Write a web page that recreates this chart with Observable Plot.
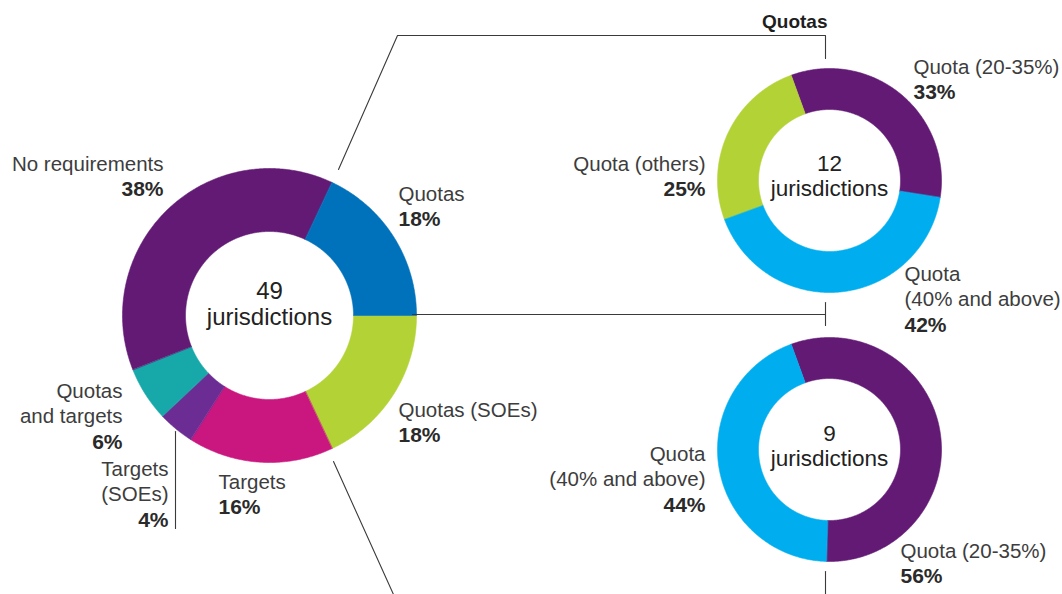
<!DOCTYPE html>
<html>
<head>
<meta charset="utf-8">
<script src="https://cdn.jsdelivr.net/npm/d3@7"></script>
<script src="https://cdn.jsdelivr.net/npm/@observablehq/plot@0.6"></script>
<style>
  html, body { margin: 0; padding: 0; background: #fff; overflow: hidden; }
  #chart svg { display: block; }
</style>
</head>
<body>
<div id="chart"></div>
<script>
// ---------- DATA ----------
const mainCategories = ["Quotas (SOEs)", "Targets", "Targets (SOEs)", "Quotas and targets", "No requirements", "Quotas"];
const mainValues = [18, 16, 4, 6, 38, 18];
const mainTotal = 49;

const quotasTitle = "Quotas";
const quotasCategories = ["Quota (20-35%)", "Quota (40% and above)", "Quota (others)"];
const quotasValues = [33, 42, 25];
const quotasTotal = 12;

const soeCategories = ["Quota (20-35%)", "Quota (40% and above)"];
const soeValues = [56, 44];
const soeTotal = 9;

const unitLabel = "jurisdictions";

// ---------- STYLE / LAYOUT ----------
const W = 1062, H = 594;
const mainColors = ["#b2d235", "#c9177f", "#6b2d93", "#17a9a9", "#621a74", "#0071bb"];
const quotasColors = ["#621a74", "#00aeef", "#b2d235"];
const soeColors = ["#621a74", "#00aeef"];

const geom = {
  main:   {cx: 269, cy: 315, r0: 84, r1: 147, start: 90, fs: 24, base: 324, gap: 25.5, ls: 0.5},
  quotas: {cx: 829, cy: 180, r0: 71, r1: 112, start: -20, fs: 22.5, base: 195, gap: 24.5, ls: 0.4},
  soe:    {cx: 829, cy: 449, r0: 71, r1: 112, start: -20, fs: 22.5, base: 465, gap: 24.5, ls: 0.4}
};
// label placement: anchor, x, first baseline, words on first line (0 = no wrap)
const mainLabelPos = [
  {anchor: "start", x: 398, y: 416, split: 0},
  {anchor: "start", x: 218, y: 488, split: 0},
  {anchor: "end",   x: 168, y: 475, split: 1},
  {anchor: "end",   x: 122, y: 397, split: 1},
  {anchor: "end",   x: 163, y: 170, split: 0},
  {anchor: "start", x: 398, y: 200, split: 0}
];
const quotasLabelPos = [
  {anchor: "start", x: 913, y: 73, split: 0},
  {anchor: "start", x: 904, y: 280, split: 1},
  {anchor: "end",   x: 705, y: 170, split: 0}
];
const soeLabelPos = [
  {anchor: "start", x: 900, y: 557, split: 0},
  {anchor: "end",   x: 705, y: 460, split: 1}
];
const lineH = 25.5;

// ---------- BUILD ----------
const rad = d => d * Math.PI / 180;

function donutPoints(values, colors, g, key) {
  const pie = d3.pie().sort(null).value(d => d)
    .startAngle(rad(g.start)).endAngle(rad(g.start) + 2 * Math.PI);
  const pts = [];
  pie(values).forEach((a, i) => {
    const n = Math.max(2, Math.ceil((a.endAngle - a.startAngle) / rad(0.5)) + 1);
    const id = key + i;
    for (let k = 0; k < n; k++) {
      const t = a.startAngle + (a.endAngle - a.startAngle) * k / (n - 1);
      pts.push({id, color: colors[i], x: g.cx + g.r1 * Math.sin(t), y: g.cy - g.r1 * Math.cos(t)});
    }
    for (let k = n - 1; k >= 0; k--) {
      const t = a.startAngle + (a.endAngle - a.startAngle) * k / (n - 1);
      pts.push({id, color: colors[i], x: g.cx + g.r0 * Math.sin(t), y: g.cy - g.r0 * Math.cos(t)});
    }
  });
  return pts;
}

const arcs = [
  ...donutPoints(mainValues, mainColors, geom.main, "m"),
  ...donutPoints(quotasValues, quotasColors, geom.quotas, "q"),
  ...donutPoints(soeValues, soeColors, geom.soe, "s")
];

function labelRows(cats, vals, pos) {
  const rows = [];
  cats.forEach((c, i) => {
    const p = pos[i];
    const words = c.split(" ");
    const lines = p.split ? [words.slice(0, p.split).join(" "), words.slice(p.split).join(" ")] : [c];
    lines.forEach((l, j) => rows.push({text: l, x: p.x, y: p.y + j * lineH, anchor: p.anchor, bold: false}));
    rows.push({text: vals[i] + "%", x: p.x, y: p.y + lines.length * lineH, anchor: p.anchor, bold: true});
  });
  return rows;
}
const labels = [
  ...labelRows(mainCategories, mainValues, mainLabelPos),
  ...labelRows(quotasCategories, quotasValues, quotasLabelPos),
  ...labelRows(soeCategories, soeValues, soeLabelPos)
];

const centers = [[geom.main, mainTotal], [geom.quotas, quotasTotal], [geom.soe, soeTotal]]
  .flatMap(([g, n]) => [
    {x: g.cx, y: g.base - g.gap, fs: g.fs, ls: 0, text: String(n)},
    {x: g.cx, y: g.base, fs: g.fs, ls: g.ls, text: unitLabel}
  ]);

const connectors = [
  {id: "top", x: 338, y: 169}, {id: "top", x: 397, y: 35}, {id: "top", x: 825, y: 35}, {id: "top", x: 825, y: 58},
  {id: "mid", x: 412, y: 314}, {id: "mid", x: 825, y: 314},
  {id: "tick", x: 825, y: 302}, {id: "tick", x: 825, y: 325},
  {id: "bot", x: 333, y: 461}, {id: "bot", x: 393, y: 594},
  {id: "btick", x: 825, y: 571}, {id: "btick", x: 825, y: 594},
  {id: "lead", x: 175, y: 431}, {id: "lead", x: 175, y: 528}
];

const FONT = "'Liberation Sans', Arial, Helvetica, sans-serif";
const textMarks = [];
for (const anchor of ["start", "end"]) {
  for (const bold of [false, true]) {
    textMarks.push(Plot.text(labels, {
      filter: d => d.anchor === anchor && d.bold === bold,
      x: "x", y: "y", text: "text",
      textAnchor: anchor, lineAnchor: "bottom",
      fontSize: bold ? 21 : 20.5, fontWeight: bold ? "bold" : "normal",
      fill: bold ? "#2a2a2a" : "#3d3d3d", fontFamily: FONT
    }));
  }
}

const centerMarks = centers.map(c => Plot.text([c], {
  x: "x", y: "y", text: "text", textAnchor: "middle", lineAnchor: "bottom",
  fontSize: c.fs, fill: "#222", fontFamily: FONT, letterSpacing: c.ls
}));

const chart = Plot.plot({
  width: W, height: H, margin: 0,
  style: {fontFamily: FONT, background: "#fff"},
  x: {domain: [0, W], range: [0, W], axis: null},
  y: {domain: [0, H], range: [0, H], axis: null},
  color: {type: "identity"},
  marks: [
    Plot.line(arcs, {x: "x", y: "y", z: "id", fill: "color", stroke: "color", strokeWidth: 0.6, curve: "linear-closed"}),
    Plot.line(connectors, {x: "x", y: "y", z: "id", stroke: "#3a3a3a", strokeWidth: 1.1}),
    ...textMarks,
    ...centerMarks,
    Plot.text([quotasTitle], {x: () => 827, y: () => 27, text: d => d, textAnchor: "end", lineAnchor: "bottom",
      fontSize: 19, fontWeight: "bold", fill: "#1e1e1e", fontFamily: FONT})
  ]
});
document.getElementById("chart").appendChild(chart);
</script>
</body>
</html>
